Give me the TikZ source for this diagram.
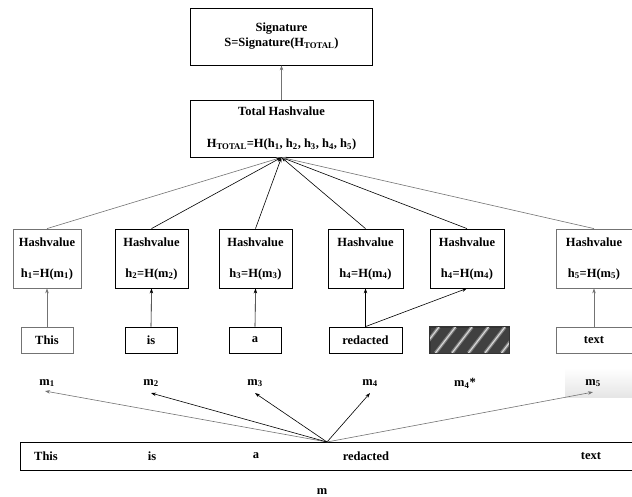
\documentclass[tikz,border=0pt]{standalone}
\usepackage{fontspec}
\setmainfont{Liberation Serif}
\usetikzlibrary{arrows.meta}
\begin{document}
\begin{tikzpicture}[x=1pt,y=-1pt,
  box/.style={draw, line width=0.8pt, inner sep=0pt, align=center,
    font=\fontsize{12.5}{15}\selectfont\bfseries},
  lab/.style={inner sep=0pt, font=\fontsize{12.5}{15}\selectfont\bfseries},
  hbox/.style={box, minimum width=73pt, minimum height=59pt},
  wbox/.style={box, minimum height=26pt},
  arr/.style={-{Stealth[length=5pt,width=3.5pt]}, line width=0.6pt},
  garr/.style={arr, draw=black!55}]
\useasboundingbox (0,0) rectangle (632,497);

% top boxes
\node[box, minimum width=182pt, minimum height=57pt] (sig) at (281.5,36.5)
  {Signature\\S=Signature(H\textsubscript{TOTAL})};
\node[box, minimum width=183pt, minimum height=57pt] (tot) at (281.5,128.5)
  {Total Hashvalue\\[17pt]H\textsubscript{TOTAL}=H(h\textsubscript{1}, h\textsubscript{2}, h\textsubscript{3}, h\textsubscript{4}, h\textsubscript{5})};

% hash boxes
\node[hbox, draw=black!55, minimum width=68pt] (h1) at (47,258.5) {Hashvalue\\[16pt]h\textsubscript{1}=H(m\textsubscript{1})};
\node[hbox] (h2) at (151.5,258.5) {Hashvalue\\[16pt]h\textsubscript{2}=H(m\textsubscript{2})};
\node[hbox] (h3) at (255.5,258.5) {Hashvalue\\[16pt]h\textsubscript{3}=H(m\textsubscript{3})};
\node[hbox, minimum width=75pt] (h4) at (365.5,258.5) {Hashvalue\\[16pt]h\textsubscript{4}=H(m\textsubscript{4})};
\node[hbox, minimum width=74pt] (h5) at (467,258.5) {Hashvalue\\[16pt]h\textsubscript{4}=H(m\textsubscript{4})};
\node[hbox, draw=black!55, minimum width=76pt] (h6) at (594,258.5) {Hashvalue\\[16pt]h\textsubscript{5}=H(m\textsubscript{5})};

% word boxes
\node[wbox, draw=black!55, minimum width=52pt] (w1) at (47,340) {This};
\node[wbox, minimum width=52pt] (w2) at (151,340) {is};
\node[wbox, minimum width=52pt] (w3) at (255,340) {a};
\node[wbox, minimum width=73pt] (w4) at (365.5,340) {redacted};
\node[wbox, draw=black!80, fill=black!75, minimum width=79pt] (w5) at (469.5,340) {};
\node[wbox, draw=black!55, minimum width=76pt] (w6) at (594,340) {text};

% hatching of redacted box
\begin{scope}
  \clip (w5.south west) rectangle (w5.north east);
  \foreach \x in {419,435.5,...,525} {
    \draw[black!50, line width=3.5pt] (\x,353) -- ++(20,-26);
    \draw[white!85!black, line width=1.1pt] (\x,353) -- ++(20,-26);
  }
\end{scope}
\draw[black!80, line width=0.8pt] (w5.south west) rectangle (w5.north east);

% m labels
\shade[top color=white, bottom color=black!10] (565,368) rectangle (632,397);
\node[lab] (m1) at (47,383) {m\textsubscript{1}};
\node[lab] (m2) at (151,383) {m\textsubscript{2}};
\node[lab] (m3) at (255,383) {m\textsubscript{3}};
\node[lab] (m4) at (370,383) {m\textsubscript{4}};
\node[lab] (m4s) at (465,383) {m\textsubscript{4}*};
\node[lab] (m5) at (593,383) {m\textsubscript{5}};

% message box
\node[box, minimum width=612pt, minimum height=28pt] (msg) at (326,456) {};
\node[lab] (t1) at (46,456) {This};
\node[lab] (t2) at (152,456) {is};
\node[lab] (t3) at (256,456) {a};
\node[lab] (t4) at (366,456) {redacted};
\node[lab] (t5) at (591,456) {text};
\node[lab] (mm) at (322,492) {m};
\coordinate (src) at (327,442);
\coordinate (e1) at ([xshift=-2pt,yshift=-4pt]m1.south);
\coordinate (e2) at ([yshift=-6pt]m2.south);
\coordinate (e3) at ([yshift=-6pt]m3.south);
\coordinate (e4) at ([yshift=-6pt]m4.south);
\coordinate (e5) at ([yshift=-5pt]m5.south);

% arrows
\draw[garr] (tot.north) -- (sig.south);
\draw[garr] (h1.north) -- (tot.south);
\draw[arr] (h2.north) -- (tot.south);
\draw[arr] (h3.north) -- (tot.south);
\draw[arr] (h4.north) -- (tot.south);
\draw[arr] (h5.north) -- (tot.south);
\draw[garr] (h6.north) -- (tot.south);

\draw[garr] (w1.north) -- (h1.south);
\draw[arr] (w2.north) -- (h2.south);
\draw[arr] (w3.north) -- (h3.south);
\draw[arr] (w4.north) -- (h4.south);
\draw[arr] (w4.north) -- (h5.south);
\draw[garr] (w6.north) -- (h6.south);

\draw[garr] (src) -- (e1);
\draw[arr] (src) -- (e2);
\draw[arr] (src) -- (e3);
\draw[arr] (src) -- (e4);
\draw[garr] (src) -- (e5);
\end{tikzpicture}
\end{document}
